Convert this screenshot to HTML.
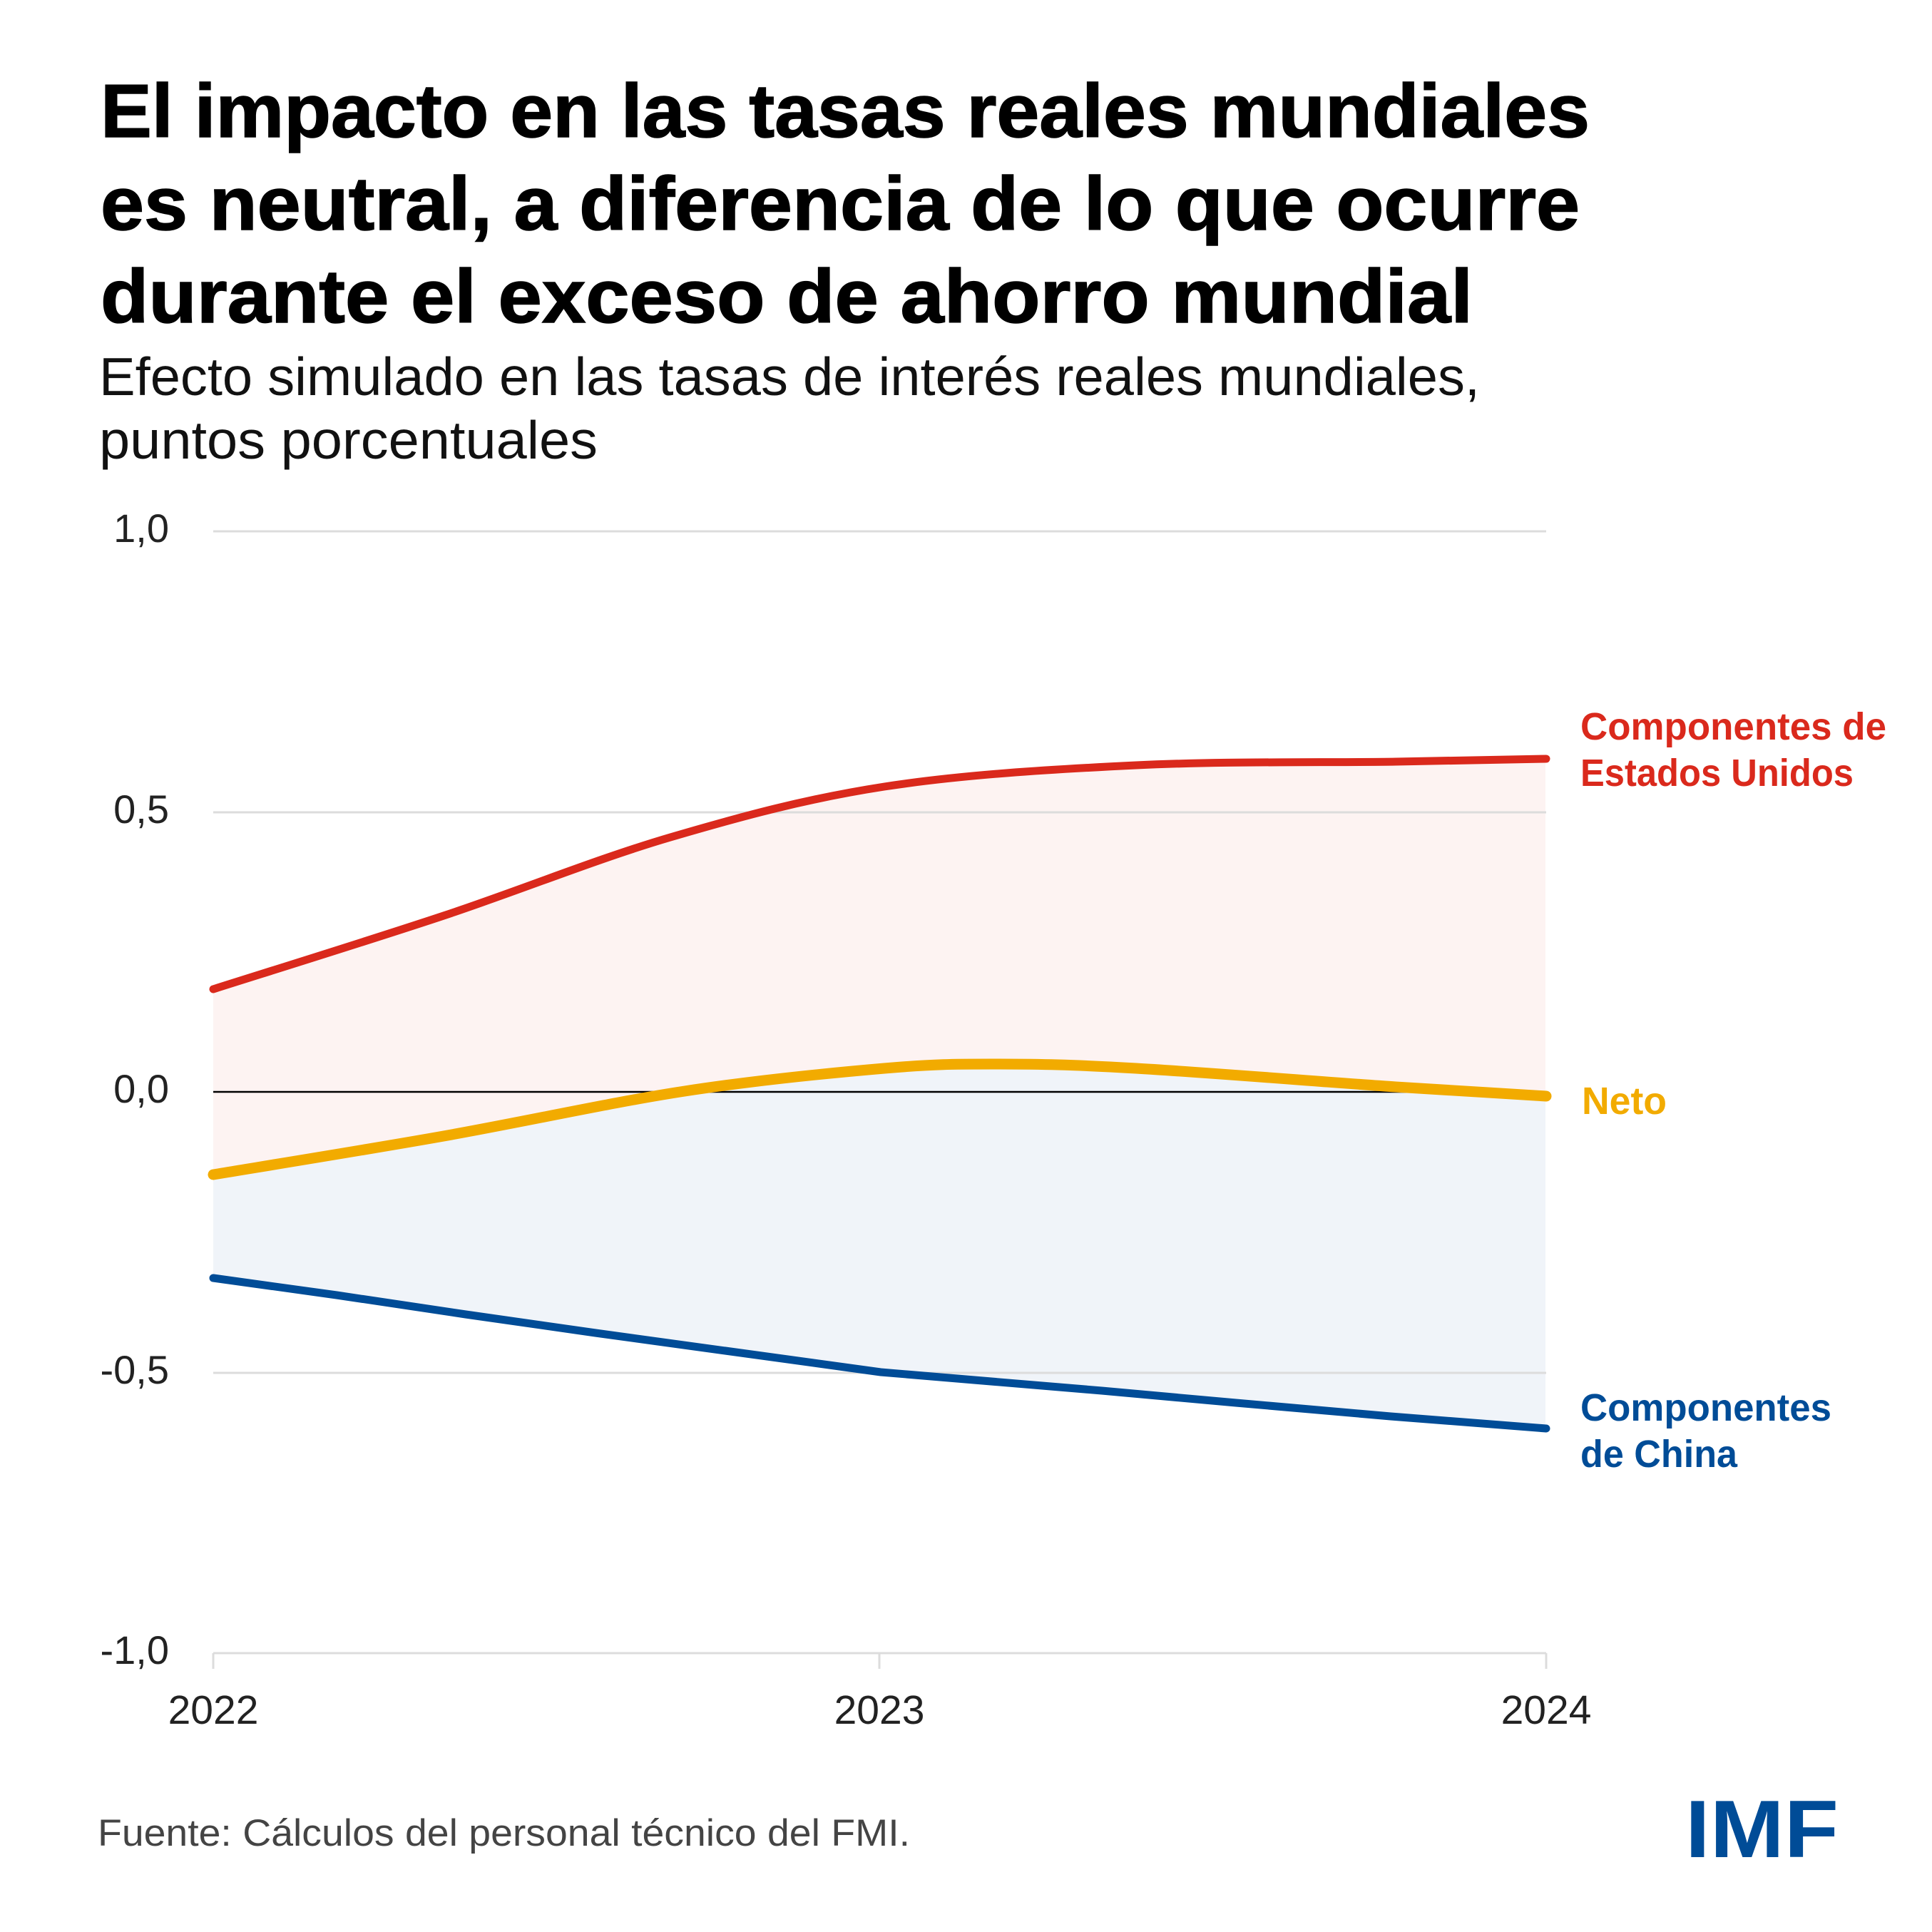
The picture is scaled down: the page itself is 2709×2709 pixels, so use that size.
<!DOCTYPE html>
<html>
<head>
<meta charset="utf-8">
<style>
html,body{margin:0;padding:0;background:#fff;}
svg{display:block;}
text{font-family:"Liberation Sans", Arial, sans-serif;}
</style>
</head>
<body>
<svg width="2709" height="2709" viewBox="0 0 2709 2709" xmlns="http://www.w3.org/2000/svg">
<rect x="0" y="0" width="2709" height="2709" fill="#ffffff"/>

<!-- Title -->
<g font-size="106" font-weight="bold" fill="#000" stroke="#000" stroke-width="1.5">
<text x="141" y="192" textLength="2088" lengthAdjust="spacingAndGlyphs">El impacto en las tasas reales mundiales</text>
<text x="141" y="322" textLength="2074" lengthAdjust="spacingAndGlyphs">es neutral, a diferencia de lo que ocurre</text>
<text x="141" y="452" textLength="1924" lengthAdjust="spacingAndGlyphs">durante el exceso de ahorro mundial</text>
</g>

<!-- Subtitle -->
<text x="139" y="554" font-size="75" fill="#111" textLength="1936" lengthAdjust="spacingAndGlyphs">Efecto simulado en las tasas de interés reales mundiales,</text>
<text x="139" y="643" font-size="75" fill="#111" textLength="699" lengthAdjust="spacingAndGlyphs">puntos porcentuales</text>

<!-- Fills (stacked) -->
<path fill="#FDF3F2" d="M299,1387 C352.8,1369.8 515.2,1319.5 622,1284 C728.8,1248.5 837,1204.2 940,1174 C1043,1143.8 1131.2,1119.8 1240,1103 C1348.8,1086.2 1473.5,1078.8 1593,1073 C1712.5,1067.2 1861.2,1069.5 1957,1068 C2052.8,1066.5 2132.8,1064.7 2167,1064 L2167,2318 L299,2318 Z"/>
<path fill="#F0F4F9" d="M299,1647 C352.8,1638 511.8,1612.5 622,1593 C732.2,1573.5 857,1545.8 960,1530 C1063,1514.2 1166.7,1504.3 1240,1498 C1313.3,1491.7 1341.2,1492 1400,1492 C1458.8,1492 1500.2,1492.7 1593,1498 C1685.8,1503.3 1861.2,1517.5 1957,1524 C2052.8,1530.5 2132.8,1534.8 2167,1537 L2167,2318 L299,2318 Z"/>
<polygon fill="#ffffff" points="299,1792 472,1816 653,1843 835,1869 1017,1894 1235,1924 1545,1950 1733,1967 1950,1986 2167,2003 2167,2330 299,2330"/>

<!-- Gridlines -->
<g stroke="#dcdcdc" stroke-width="3" fill="none">
<line x1="299" y1="745" x2="2168" y2="745"/>
<line x1="299" y1="1139" x2="2168" y2="1139"/>
<line x1="299" y1="1925" x2="2168" y2="1925"/>
<line x1="299" y1="2318" x2="2168" y2="2318"/>
<line x1="299" y1="2318" x2="299" y2="2340"/>
<line x1="1233" y1="2318" x2="1233" y2="2340"/>
<line x1="2168" y1="2318" x2="2168" y2="2340"/>
</g>
<line x1="299" y1="1531" x2="2168" y2="1531" stroke="#000" stroke-width="2.5"/>

<!-- Y labels -->
<g font-size="56" fill="#222" text-anchor="end">
<text x="237" y="760">1,0</text>
<text x="237" y="1154">0,5</text>
<text x="237" y="1546">0,0</text>
<text x="237" y="1940">-0,5</text>
<text x="237" y="2333">-1,0</text>
</g>

<!-- X labels -->
<g font-size="57" fill="#222" text-anchor="middle">
<text x="299" y="2417">2022</text>
<text x="1233" y="2417">2023</text>
<text x="2168" y="2417">2024</text>
</g>

<!-- Series -->
<g fill="none" stroke-linecap="round" stroke-linejoin="round">
<polyline stroke="#004C97" stroke-width="11" points="299,1792 472,1816 653,1843 835,1869 1017,1894 1235,1924 1545,1950 1733,1967 1950,1986 2168,2003"/>
<path stroke="#DA291C" stroke-width="11" d="M299,1387 C352.8,1369.8 515.2,1319.5 622,1284 C728.8,1248.5 837,1204.2 940,1174 C1043,1143.8 1131.2,1119.8 1240,1103 C1348.8,1086.2 1473.5,1078.8 1593,1073 C1712.5,1067.2 1861.2,1069.5 1957,1068 C2052.8,1066.5 2132.8,1064.7 2168,1064"/>
<path stroke="#F2AB00" stroke-width="15" d="M299,1647 C352.8,1638 511.8,1612.5 622,1593 C732.2,1573.5 857,1545.8 960,1530 C1063,1514.2 1166.7,1504.3 1240,1498 C1313.3,1491.7 1341.2,1492 1400,1492 C1458.8,1492 1500.2,1492.7 1593,1498 C1685.8,1503.3 1861.2,1517.5 1957,1524 C2052.8,1530.5 2132.8,1534.8 2168,1537"/>
</g>

<!-- Right labels -->
<g font-size="54" font-weight="bold">
<text x="2216" y="1037" fill="#DA291C" textLength="429" lengthAdjust="spacingAndGlyphs">Componentes de</text>
<text x="2216" y="1102" fill="#DA291C" textLength="383" lengthAdjust="spacingAndGlyphs">Estados Unidos</text>
<text x="2218" y="1562" fill="#F2AB00" textLength="119" lengthAdjust="spacingAndGlyphs">Neto</text>
<text x="2216" y="1992" fill="#004C97" textLength="352" lengthAdjust="spacingAndGlyphs">Componentes</text>
<text x="2216" y="2057" fill="#004C97" textLength="220" lengthAdjust="spacingAndGlyphs">de China</text>
</g>

<!-- Footer -->
<text x="137" y="2588" font-size="53" fill="#444" textLength="1139" lengthAdjust="spacingAndGlyphs">Fuente: Cálculos del personal técnico del FMI.</text>

<!-- IMF logo -->
<text x="2363" y="2604" font-size="114" font-weight="bold" fill="#004C97" textLength="215" lengthAdjust="spacingAndGlyphs">IMF</text>
</svg>
</body>
</html>
